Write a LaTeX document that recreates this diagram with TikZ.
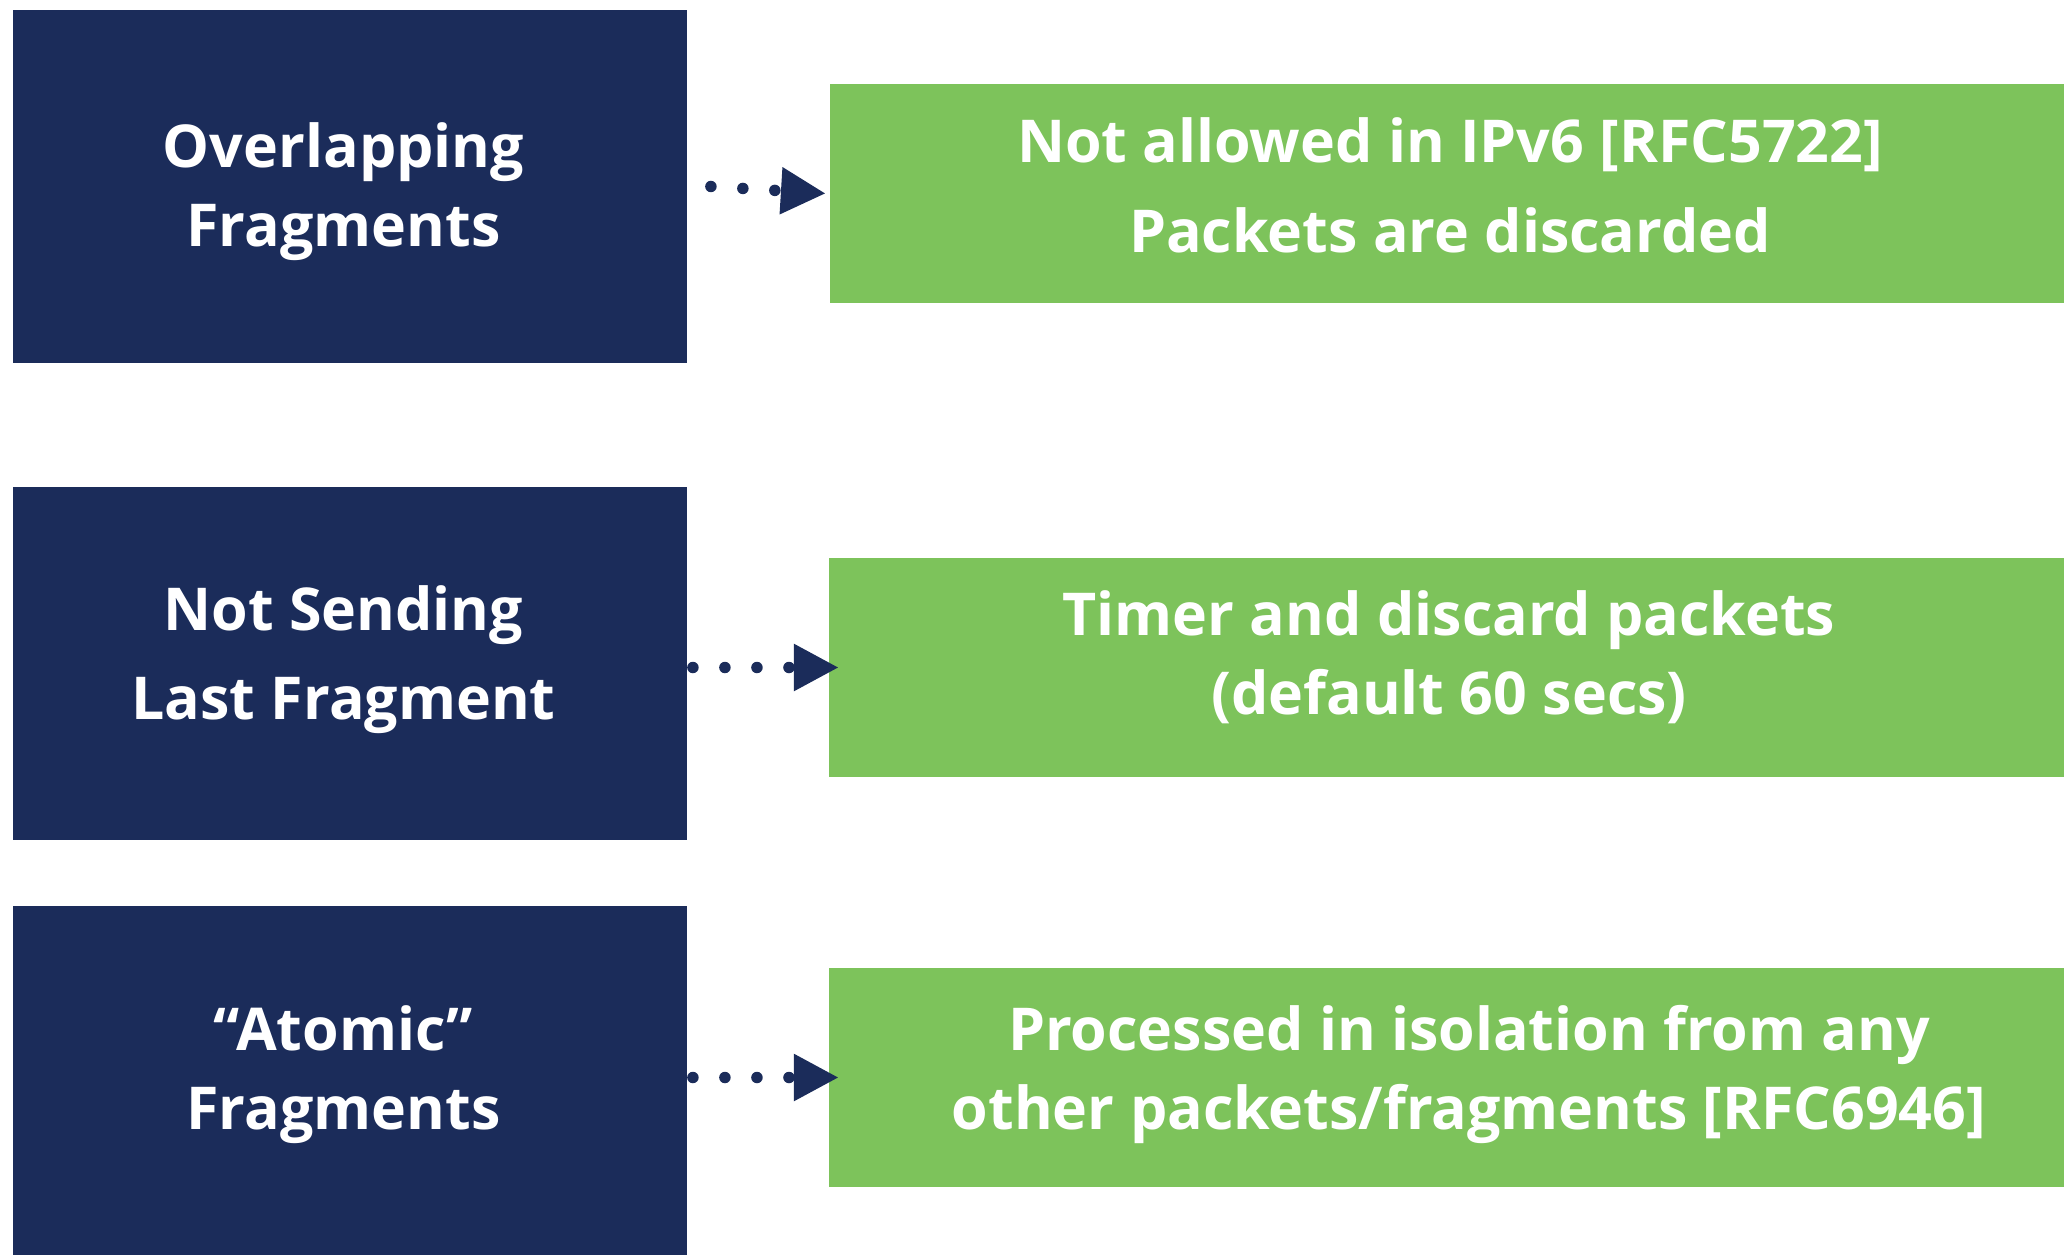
\documentclass[tikz,border=0pt]{standalone}
\usepackage{fontspec}
\setmainfont{Open Sans}
\usetikzlibrary{arrows.meta}
\definecolor{navyblue}{RGB}{27,44,90}
\definecolor{leafgreen}{RGB}{125,195,91}
\tikzset{
	issuebox/.style={fill=navyblue,minimum width=6.74cm,minimum height=3.53cm,inner sep=0pt},
	answerbox/.style={fill=leafgreen,minimum width=12.4cm,minimum height=2.19cm,inner sep=0pt},
	boxtext/.style={text=white,inner sep=0pt,align=center,font=\bfseries\fontsize{16.8}{22.5}\selectfont},
	dotarrow/.style={navyblue,line width=0.115cm,line cap=round,dash pattern=on 0pt off 0.32cm,-{Triangle[length=0.45cm,width=0.44cm,line cap=butt]}}
}
\begin{document}
\begin{tikzpicture}[x=0.01cm,y=-0.01cm]
			\useasboundingbox (0,0) rectangle (2064,1255);
			
			\node[issuebox] (overlap) at (350,186.5) {};
			\node[issuebox] (lastfrag) at (350,663.5) {};
			\node[issuebox] (atomic) at (350,1082.5) {};
			
			\node[answerbox] (notallowed) at (1450,193.5) {};
			\node[answerbox] (timer) at (1449,667.5) {};
			\node[answerbox,minimum width=12.8cm] (isolation) at (1469,1077.5) {};
			
			% texts
			\node[boxtext] (overlaptext) at ([shift={(-0.065cm,-0.05cm)}]overlap.center) {Overlapping\\Fragments};
			\node[boxtext] (lastfragtext) at ([shift={(-0.065cm,0.04cm)}]lastfrag.center) {Not Sending\\[3pt]Last Fragment};
			\node[boxtext] (atomictext) at ([shift={(-0.065cm,0.08cm)}]atomic.center) {``Atomic''\\Fragments};
			\node[boxtext] (notallowedtext) at ([yshift=0.08cm]notallowed.center) {Not allowed in IPv6 [RFC5722]\\[3pt]Packets are discarded};
			\node[boxtext] (timertext) at ([yshift=0.1cm]timer.center) {Timer and discard packets\\(default 60 secs)};
			\node[boxtext] (isolationtext) at ([yshift=0.03cm]isolation.center) {Processed in isolation from any\\other packets/fragments [RFC6946]};
			
			% dotted connectors
			\draw[dotarrow] ([xshift=0.23cm]overlap.east) -- ([xshift=-0.03cm]notallowed.west);
			\draw[dotarrow] ([xshift=0.05cm]lastfrag.east |- timer.west) -- ([xshift=0.11cm]timer.west);
			\draw[dotarrow] ([xshift=0.05cm]atomic.east |- isolation.west) -- ([xshift=0.11cm]isolation.west);
			
		\end{tikzpicture}
\end{document}
